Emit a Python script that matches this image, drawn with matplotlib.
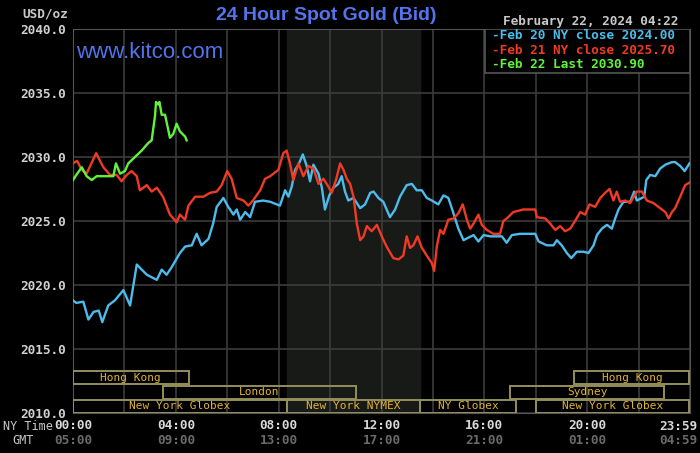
import matplotlib
matplotlib.use("Agg")
import matplotlib.pyplot as plt
from matplotlib.patches import Rectangle

# ---- data (hours NY time, USD/oz) ----
feb20_hours = [0, 0.13, 0.4, 0.6, 0.8, 1.0, 1.14, 1.37, 1.63, 1.96, 2.22, 2.48, 2.87, 3.26, 3.45,
               3.64, 3.84, 4.16, 4.36, 4.62, 4.81, 5.0, 5.27, 5.45, 5.59, 5.85, 6.04, 6.24, 6.37,
               6.5, 6.7, 6.89, 7.08, 7.4, 7.67, 8.05, 8.25, 8.38, 8.51, 8.64, 8.77, 8.94, 9.09,
               9.22, 9.35, 9.55, 9.68, 9.8, 9.97, 10.13, 10.32, 10.45, 10.58, 10.71, 10.91, 11.17,
               11.36, 11.56, 11.69, 11.88, 12.07, 12.33, 12.53, 12.72, 12.98, 13.18, 13.37, 13.57,
               13.76, 13.96, 14.21, 14.41, 14.6, 14.8, 14.99, 15.19, 15.38, 15.58, 15.77, 15.97,
               16.23, 16.49, 16.68, 16.87, 17.07, 17.39, 17.98, 18.11, 18.43, 18.69, 18.82, 19.01,
               19.21, 19.38, 19.6, 19.86, 20.05, 20.25, 20.38, 20.57, 20.77, 20.96, 21.09, 21.22,
               21.41, 21.67, 21.83, 21.93, 22.13, 22.22, 22.3, 22.45, 22.65, 22.84, 23.04, 23.3,
               23.42, 23.62, 23.79, 23.98]
feb20_values = [2018.8, 2018.6, 2018.7, 2017.3, 2017.9, 2018.0, 2017.1, 2018.4, 2018.8, 2019.6,
                2018.4, 2021.6, 2020.8, 2020.4, 2021.2, 2020.8, 2021.4, 2022.5, 2023.0, 2023.1,
                2024.0, 2023.1, 2023.6, 2024.8, 2026.1, 2026.8, 2026.1, 2025.5, 2025.9, 2025.1,
                2025.7, 2025.3, 2026.5, 2026.6, 2026.5, 2026.2, 2027.4, 2026.9, 2027.7, 2029.0,
                2029.4, 2030.2, 2029.3, 2028.1, 2029.4, 2028.7, 2027.6, 2025.9, 2027.0, 2027.6,
                2027.9, 2028.5, 2027.3, 2026.6, 2026.8, 2026.0, 2026.3, 2027.2, 2027.3, 2026.8,
                2026.5, 2025.3, 2025.9, 2026.9, 2027.8, 2027.9, 2027.4, 2027.4, 2026.8, 2026.6,
                2026.3, 2027.0, 2026.8, 2025.6, 2024.4, 2023.5, 2023.7, 2023.9, 2023.4, 2023.9,
                2023.8, 2023.8, 2023.8, 2023.3, 2023.9, 2024.0, 2024.0, 2023.4, 2023.1, 2023.1,
                2023.5, 2023.1, 2022.5, 2022.1, 2022.6, 2022.6, 2022.5, 2023.1, 2023.9, 2024.4,
                2024.7, 2024.4, 2025.2, 2025.9, 2026.5, 2026.5, 2027.3, 2026.6, 2026.8, 2026.9,
                2028.2, 2028.6, 2028.5, 2029.1, 2029.4, 2029.6, 2029.6, 2029.3, 2028.9, 2029.5]

feb21_hours = [0, 0.16, 0.34, 0.53, 0.9, 1.18, 1.44, 1.7, 1.89, 2.09, 2.28, 2.48, 2.6, 2.87, 3.06,
               3.26, 3.5, 3.77, 4.03, 4.16, 4.36, 4.49, 4.75, 5.07, 5.33, 5.59, 5.78, 6.0, 6.17,
               6.37, 6.63, 6.82, 7.0, 7.28, 7.47, 7.67, 7.99, 8.18, 8.31, 8.44, 8.57, 8.77, 8.96,
               9.16, 9.35, 9.55, 9.74, 9.93, 10.06, 10.23, 10.39, 10.52, 10.65, 10.78, 10.91, 11.04,
               11.17, 11.3, 11.43, 11.62, 11.82, 12.01, 12.2, 12.46, 12.66, 12.85, 12.98, 13.11,
               13.24, 13.4, 13.57, 13.76, 13.96, 14.05, 14.15, 14.28, 14.41, 14.6, 14.8, 14.99,
               15.16, 15.32, 15.45, 15.58, 15.77, 15.9, 16.1, 16.35, 16.61, 16.74, 16.87, 17.13,
               17.52, 17.98, 18.04, 18.37, 18.56, 18.76, 18.95, 19.14, 19.34, 19.53, 19.73, 19.92,
               20.09, 20.31, 20.51, 20.7, 20.87, 21.02, 21.15, 21.28, 21.48, 21.67, 21.93, 22.13,
               22.32, 22.58, 22.84, 23.04, 23.17, 23.3, 23.42, 23.62, 23.81, 23.98]
feb21_values = [2029.5, 2029.7, 2029.0, 2028.7, 2030.3, 2029.2, 2028.6, 2028.6, 2028.1, 2028.6,
                2028.9, 2028.5, 2027.4, 2027.8, 2027.3, 2027.6, 2026.9, 2025.5, 2024.9, 2025.5,
                2025.1, 2026.2, 2026.9, 2026.9, 2027.2, 2027.3, 2027.8, 2028.9, 2028.3, 2026.8,
                2026.6, 2026.2, 2026.6, 2027.4, 2028.3, 2028.5, 2029.0, 2030.3, 2030.5, 2029.5,
                2028.2, 2029.5, 2028.5, 2029.3, 2029.1, 2027.9, 2028.3, 2027.7, 2027.2, 2028.2,
                2029.5, 2029.0, 2028.3, 2027.9, 2026.9, 2024.8, 2023.5, 2023.8, 2024.6, 2024.2,
                2024.7, 2023.8, 2023.0, 2022.1, 2022.0, 2022.3, 2023.8, 2022.9, 2023.1, 2023.8,
                2022.9, 2022.3, 2021.7, 2021.1, 2023.0, 2024.3, 2024.0, 2025.1, 2025.2, 2025.6,
                2026.3, 2025.1, 2024.4, 2024.8, 2025.5, 2024.7, 2024.3, 2024.0, 2024.0, 2025.0,
                2025.2, 2025.7, 2025.9, 2025.9, 2025.3, 2025.2, 2024.8, 2024.3, 2024.6, 2024.2,
                2024.4, 2025.0, 2025.7, 2025.5, 2026.3, 2026.1, 2026.8, 2027.2, 2027.5, 2026.6,
                2027.3, 2026.5, 2026.6, 2026.4, 2027.3, 2027.3, 2026.6, 2026.4, 2026.0, 2025.7,
                2025.2, 2025.7, 2026.0, 2026.9, 2027.8, 2028.0]

feb22_hours = [0, 0.13, 0.34, 0.53, 0.73, 0.92, 1.57, 1.67, 1.83, 2.02, 2.15, 2.41, 2.67, 2.93,
               3.06, 3.19, 3.23, 3.32, 3.36, 3.45, 3.58, 3.77, 3.9, 4.03, 4.16, 4.36, 4.42]
feb22_values = [2028.2, 2028.6, 2029.2, 2028.5, 2028.2, 2028.5, 2028.5, 2029.5, 2028.7, 2028.9,
                2029.5, 2030.0, 2030.5, 2031.1, 2031.3, 2033.2, 2034.3, 2034.1, 2034.3, 2033.3,
                2033.3, 2031.5, 2031.8, 2032.6, 2032.0, 2031.6, 2031.3]

legend_labels = ["-Feb 20 NY close 2024.00", "-Feb 21 NY close 2025.70", "-Feb 22 Last 2030.90"]

# trading sessions: name, start hour, end hour, row (0 = bottom)
session_names = ["Hong Kong", "London", "New York Globex", "New York NYMEX", "NY Globex",
                 "New York Globex", "Sydney", "Hong Kong"]
session_start = [0, 3.5, 0, 8.33, 13.5, 18.0, 17.0, 19.5]
session_end = [4.5, 11.0, 8.33, 13.5, 17.25, 23.98, 23.0, 23.98]
session_row = [2, 1, 0, 0, 0, 0, 1, 2]

ny_labels = ["00:00", "04:00", "08:00", "12:00", "16:00", "20:00"]
gmt_labels = ["05:00", "09:00", "13:00", "17:00", "21:00", "01:00"]
label_hours = [0, 4, 8, 12, 16, 20]

c_blue = "#4cbcec"
c_red = "#f03a24"
c_green = "#62f23a"
mono = "DejaVu Sans Mono"
fs = 9.2

fig = plt.figure(figsize=(7, 4.53), dpi=100, facecolor="black")
ax = fig.add_axes([73 / 700, 1 - 413 / 453, 617 / 700, 384 / 453])
ax.set_facecolor("black")
ax.set_xlim(0, 24)
ax.set_ylim(2010, 2040)

# NYMEX hours shading
ax.axvspan(8.33, 13.5, color="#181a18", zorder=0)

ax.set_xticks(range(0, 25, 2))
ax.set_yticks(range(2010, 2041, 5))
ax.grid(True, color="#3c3c3c", linewidth=1.2, zorder=1)
ax.tick_params(length=0, labelbottom=False)
ax.set_yticklabels([f"{v:.1f}" for v in range(2010, 2041, 5)],
                   fontfamily=mono, fontweight="bold", fontsize=fs, color="#d0d0d0")
ax.tick_params(axis="y", pad=5)
for s in ax.spines.values():
    s.set_color("#555555")

ax.plot(feb20_hours, feb20_values, color=c_blue, lw=1.7, zorder=3)
ax.plot(feb21_hours, feb21_values, color=c_red, lw=1.7, zorder=3)
ax.plot(feb22_hours, feb22_values, color=c_green, lw=1.7, zorder=4)

# session boxes
row_bottom = [2010.0, 2011.12, 2012.24]
row_height = 1.02
for name, x0, x1, r in zip(session_names, session_start, session_end, session_row):
    ax.add_patch(Rectangle((x0, row_bottom[r]), x1 - x0, row_height, facecolor="none",
                           edgecolor="#948f5c", lw=1.4, zorder=5))
    ax.text((x0 + x1) / 2, row_bottom[r] + row_height / 2, name, ha="center", va="center",
            fontfamily=mono, fontsize=8, color="#e2b42e", zorder=6)

# legend box
ax.add_patch(Rectangle((0.668, 0.885), 0.332, 0.115, transform=ax.transAxes,
                       facecolor="black", edgecolor="#555555", lw=1.2, zorder=7))
for i, (lab, col) in enumerate(zip(legend_labels, [c_blue, c_red, c_green])):
    ax.text(0.679, 0.982 - i * 0.037, lab, transform=ax.transAxes, ha="left", va="center",
            fontfamily=mono, fontweight="bold", fontsize=fs, color=col, zorder=8)

# x labels (NY time and GMT)
for h, ny, gmt in zip(label_hours, ny_labels, gmt_labels):
    ax.text(h, -0.033, ny, transform=ax.get_xaxis_transform(), ha="center", va="center",
            fontfamily=mono, fontweight="bold", fontsize=fs, color="#d8d8d8")
    ax.text(h, -0.072, gmt, transform=ax.get_xaxis_transform(), ha="center", va="center",
            fontfamily=mono, fontweight="bold", fontsize=fs, color="#6a6a6a")
fig.text(697 / 700, 1 - 426 / 453, "23:59", ha="right", va="center",
         fontfamily=mono, fontweight="bold", fontsize=fs, color="#d8d8d8")
fig.text(697 / 700, 1 - 441 / 453, "04:59", ha="right", va="center",
         fontfamily=mono, fontweight="bold", fontsize=fs, color="#6a6a6a")
fig.text(3 / 700, 1 - 426 / 453, "NY Time", ha="left", va="center",
         fontfamily=mono, fontsize=8.5, color="#c8c8c8")
fig.text(12 / 700, 1 - 441 / 453, "GMT", ha="left", va="center",
         fontfamily=mono, fontsize=8.5, color="#c8c8c8")

# header texts
fig.text(68 / 700, 1 - 14 / 453, "USD/oz", ha="right", va="center",
         fontfamily=mono, fontweight="bold", fontsize=fs, color="#c8c8c8")
fig.text(326.5 / 700, 1 - 15 / 453, "24 Hour Spot Gold (Bid)", ha="center", va="center",
         fontfamily="Liberation Sans", fontweight="bold", fontsize=14, color="#5274ec")
fig.text(678 / 700, 1 - 21 / 453, "February 22, 2024 04:22", ha="right", va="center",
         fontfamily=mono, fontweight="bold", fontsize=fs, color="#c8c8c8")
ax.text(76 / 700, 1 - 52 / 453, "www.kitco.com", transform=fig.transFigure, ha="left",
        va="center", fontfamily="Liberation Sans", fontsize=16, color="#5274ec", zorder=8)

fig.savefig("out.png", dpi=100, facecolor="black")
